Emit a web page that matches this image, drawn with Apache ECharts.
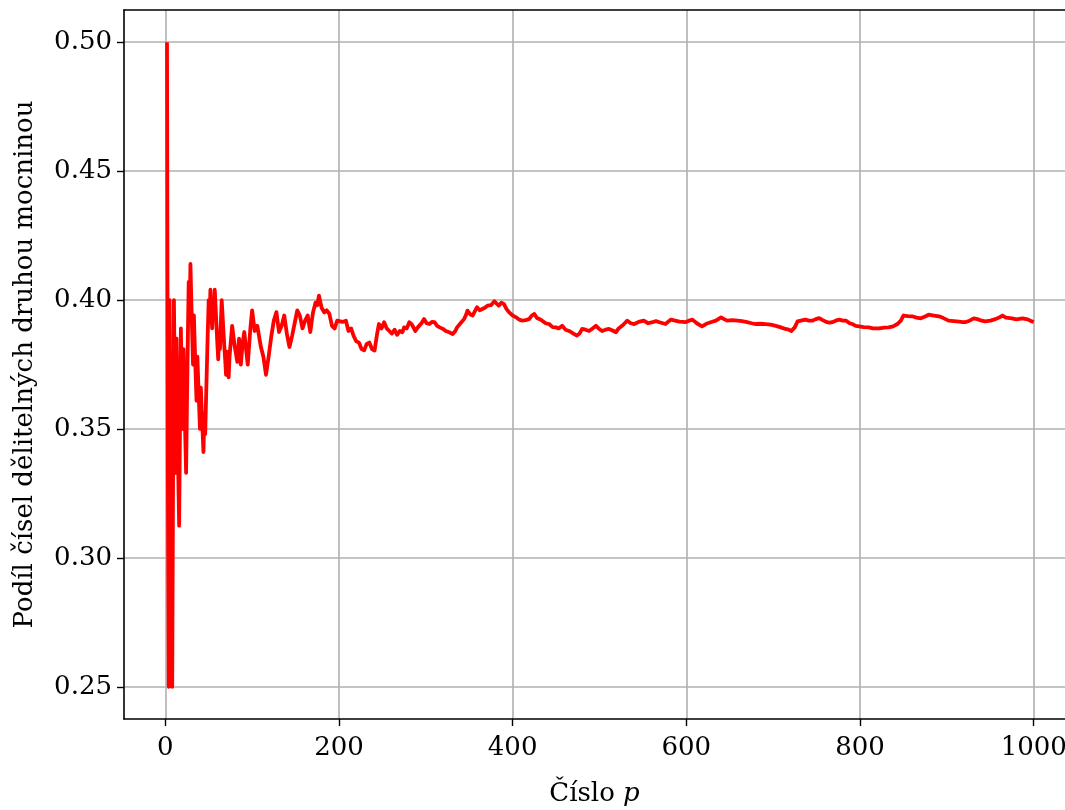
<!DOCTYPE html>
<html>
<head>
<meta charset="utf-8">
<script src="https://cdn.jsdelivr.net/npm/echarts@6/dist/echarts.min.js"></script>
<style>html,body{margin:0;padding:0;background:#fff}#c{width:1065px;height:810px}</style>
</head>
<body>
<div id="c"></div>
<script>
// sample count (x) and running fraction (y)
const xs = [2,3,4,5,6,7,8,9,10,11,12,13,14,15,16,17,18,19,20,21,22,23,24,25,26,27,28,29,30,31,32,33,34,35,36,37,38,39,40,41,42,43,44,45,46,47,48,49,50,51,52,53,54,55,56,57,58,59,60,61,62,63,64,65,66,67,68,69,70,71,72,73,74,
  77,80,83,85,87,89,91,93,95,98,100,103,106,108,110,113,116,119,122,125,128,131,134,137,140,143,146,149,152,155,158,161,164,167,170,173,175,177,180,183,186,189,192,195,198,200,204,208,211,214,217,220,223,226,229,232,235,238,241,244,246,249,252,255,258,261,264,267,270,273,275,278,281,284,288,291,295,298,301,304,307,310,313,316,320,323,327,331,334,336,340,344,346,348,351,354,357,359,362,365,368,371,375,379,381,384,387,390,393,396,400,404,407,411,415,419,422,425,428,431,434,438,442,446,450,453,457,461,465,470,474,477,480,484,488,492,496,499,503,507,511,515,519,522,526,529,532,536,540,545,551,556,561,565,569,573,576,582,587,592,596,599,603,607,612,618,623,628,634,640,644,647,653,659,664,670,675,680,686,691,697,703,708,714,718,721,725,728,732,737,741,745,749,753,757,762,765,768,772,776,780,784,788,791,795,799,804,810,815,822,828,833,838,843,847,850,855,860,865,870,875,879,885,891,896,902,908,914,918,921,926,931,936,940,944,950,956,960,964,968,975,980,987,993,998,1000];
const ys = [0.5,0.333,0.25,0.4,0.333,0.286,0.25,0.333,0.4,0.364,0.333,0.385,0.357,0.333,0.3125,0.353,0.389,0.368,0.35,0.381,0.364,0.348,0.333,0.36,0.385,0.407,0.393,0.414,0.4,0.387,0.375,0.394,0.382,0.371,0.361,0.378,0.368,0.359,0.35,0.366,0.357,0.349,0.341,0.356,0.348,0.362,0.375,0.388,0.4,0.392,0.404,0.396,0.389,0.4,0.393,0.404,0.397,0.39,0.383,0.377,0.387,0.381,0.391,0.4,0.394,0.388,0.382,0.377,0.371,0.38,0.375,0.37,0.378,
  0.39,0.382,0.376,0.385,0.375,0.383,0.3876,0.381,0.375,0.389,0.396,0.388,0.39,0.386,0.382,0.378,0.371,0.378,0.3857,0.392,0.3953,0.3876,0.39,0.394,0.387,0.3818,0.386,0.391,0.396,0.394,0.389,0.392,0.394,0.3876,0.395,0.399,0.398,0.4017,0.397,0.3952,0.396,0.3946,0.39,0.389,0.392,0.3926,0.3915,0.392,0.388,0.389,0.386,0.384,0.3835,0.381,0.3805,0.383,0.3835,0.381,0.3804,0.387,0.3907,0.389,0.3914,0.389,0.388,0.387,0.3885,0.3865,0.388,0.3875,0.3894,0.389,0.3914,0.3905,0.388,0.3895,0.391,0.3926,0.391,0.3907,0.3915,0.3914,0.39,0.3894,0.3888,0.388,0.3875,0.3868,0.388,0.3894,0.391,0.3926,0.394,0.3959,0.3945,0.394,0.396,0.3972,0.396,0.3965,0.397,0.3978,0.398,0.3995,0.3988,0.3978,0.399,0.3984,0.3965,0.3952,0.394,0.3933,0.3925,0.392,0.3922,0.3926,0.394,0.3946,0.393,0.3926,0.392,0.391,0.3907,0.3895,0.3894,0.389,0.39,0.3885,0.388,0.387,0.3862,0.387,0.3888,0.3885,0.388,0.389,0.39,0.389,0.388,0.3885,0.3888,0.3882,0.3875,0.389,0.39,0.391,0.392,0.391,0.3907,0.3915,0.392,0.391,0.3914,0.3918,0.3914,0.391,0.3907,0.3924,0.392,0.3916,0.3915,0.3914,0.392,0.3924,0.391,0.3898,0.3908,0.3914,0.392,0.3933,0.3925,0.392,0.3922,0.392,0.3918,0.3914,0.391,0.3907,0.3908,0.3907,0.3905,0.39,0.3895,0.3888,0.3885,0.388,0.3895,0.3917,0.392,0.3924,0.392,0.392,0.3926,0.393,0.3922,0.3914,0.3912,0.3914,0.392,0.3924,0.392,0.392,0.391,0.3907,0.39,0.3898,0.3895,0.3894,0.389,0.389,0.3893,0.3894,0.3898,0.3907,0.392,0.394,0.3938,0.3937,0.3932,0.3929,0.3936,0.3943,0.394,0.3937,0.393,0.392,0.3918,0.3916,0.3914,0.3914,0.392,0.3929,0.3925,0.392,0.3917,0.392,0.3926,0.3932,0.394,0.3932,0.3929,0.3925,0.3929,0.3925,0.3917,0.3915];
const xTicks = [0,200,400,600,800,1000];
const yTicks = [0.25,0.30,0.35,0.40,0.45,0.50];
const xTitle = 'Číslo {i|p}';
const yTitle = 'Podíl čísel dělitelných druhou mocninou';

const FONT = '"DejaVu Serif", "Liberation Serif", serif';
const FS = 26;
const pts = xs.map((x, i) => [x, ys[i]]);

const chart = echarts.init(document.getElementById('c'), null, {renderer: 'canvas'});
chart.setOption({
  animation: false,
  backgroundColor: '#ffffff',
  grid: {left: 124, top: 10, right: 0, bottom: 91, show: false, containLabel: false, outerBoundsMode: 'none'},
  xAxis: [{
    type: 'value', min: -47.5, max: 1036,
    name: xTitle, nameLocation: 'middle', nameGap: 62,
    nameTextStyle: {fontFamily: FONT, fontSize: FS, color: '#000', rich: {i: {fontFamily: FONT, fontSize: FS, fontStyle: 'italic', color: '#000'}}},
    axisLine: {show: true, onZero: false, lineStyle: {color: '#000', width: 1.6}},
    axisTick: {show: true, length: 7, lineStyle: {color: '#000', width: 1.4}, customValues: xTicks},
    axisLabel: {fontFamily: FONT, fontSize: FS, color: '#000', margin: 16, customValues: xTicks, formatter: v => String(v)},
    splitLine: {show: true, lineStyle: {color: '#b0b0b0', width: 1.6}}
  }, {
    type: 'value', min: -47.5, max: 1036, position: 'top',
    axisLine: {show: true, onZero: false, lineStyle: {color: '#000', width: 1.6}},
    axisTick: {show: false}, axisLabel: {show: false}, splitLine: {show: false}
  }],
  yAxis: {
    type: 'value', min: 0.2375, max: 0.5125,
    name: yTitle, nameLocation: 'middle', nameGap: 86, nameRotate: 90,
    nameTextStyle: {fontFamily: FONT, fontSize: FS, color: '#000'},
    axisLine: {show: true, onZero: false, lineStyle: {color: '#000', width: 1.6}},
    axisTick: {show: true, length: 7, lineStyle: {color: '#000', width: 1.4}, customValues: yTicks},
    axisLabel: {fontFamily: FONT, fontSize: FS, color: '#000', margin: 12, customValues: yTicks, formatter: v => v.toFixed(2)},
    splitLine: {show: true, lineStyle: {color: '#b0b0b0', width: 1.6}}
  },
  series: [{
    type: 'line', xAxisIndex: 0, data: pts, showSymbol: false, symbol: 'none',
    lineStyle: {color: '#ff0000', width: 3.8, join: 'round'}, clip: true
  }]
});
</script>
</body>
</html>
